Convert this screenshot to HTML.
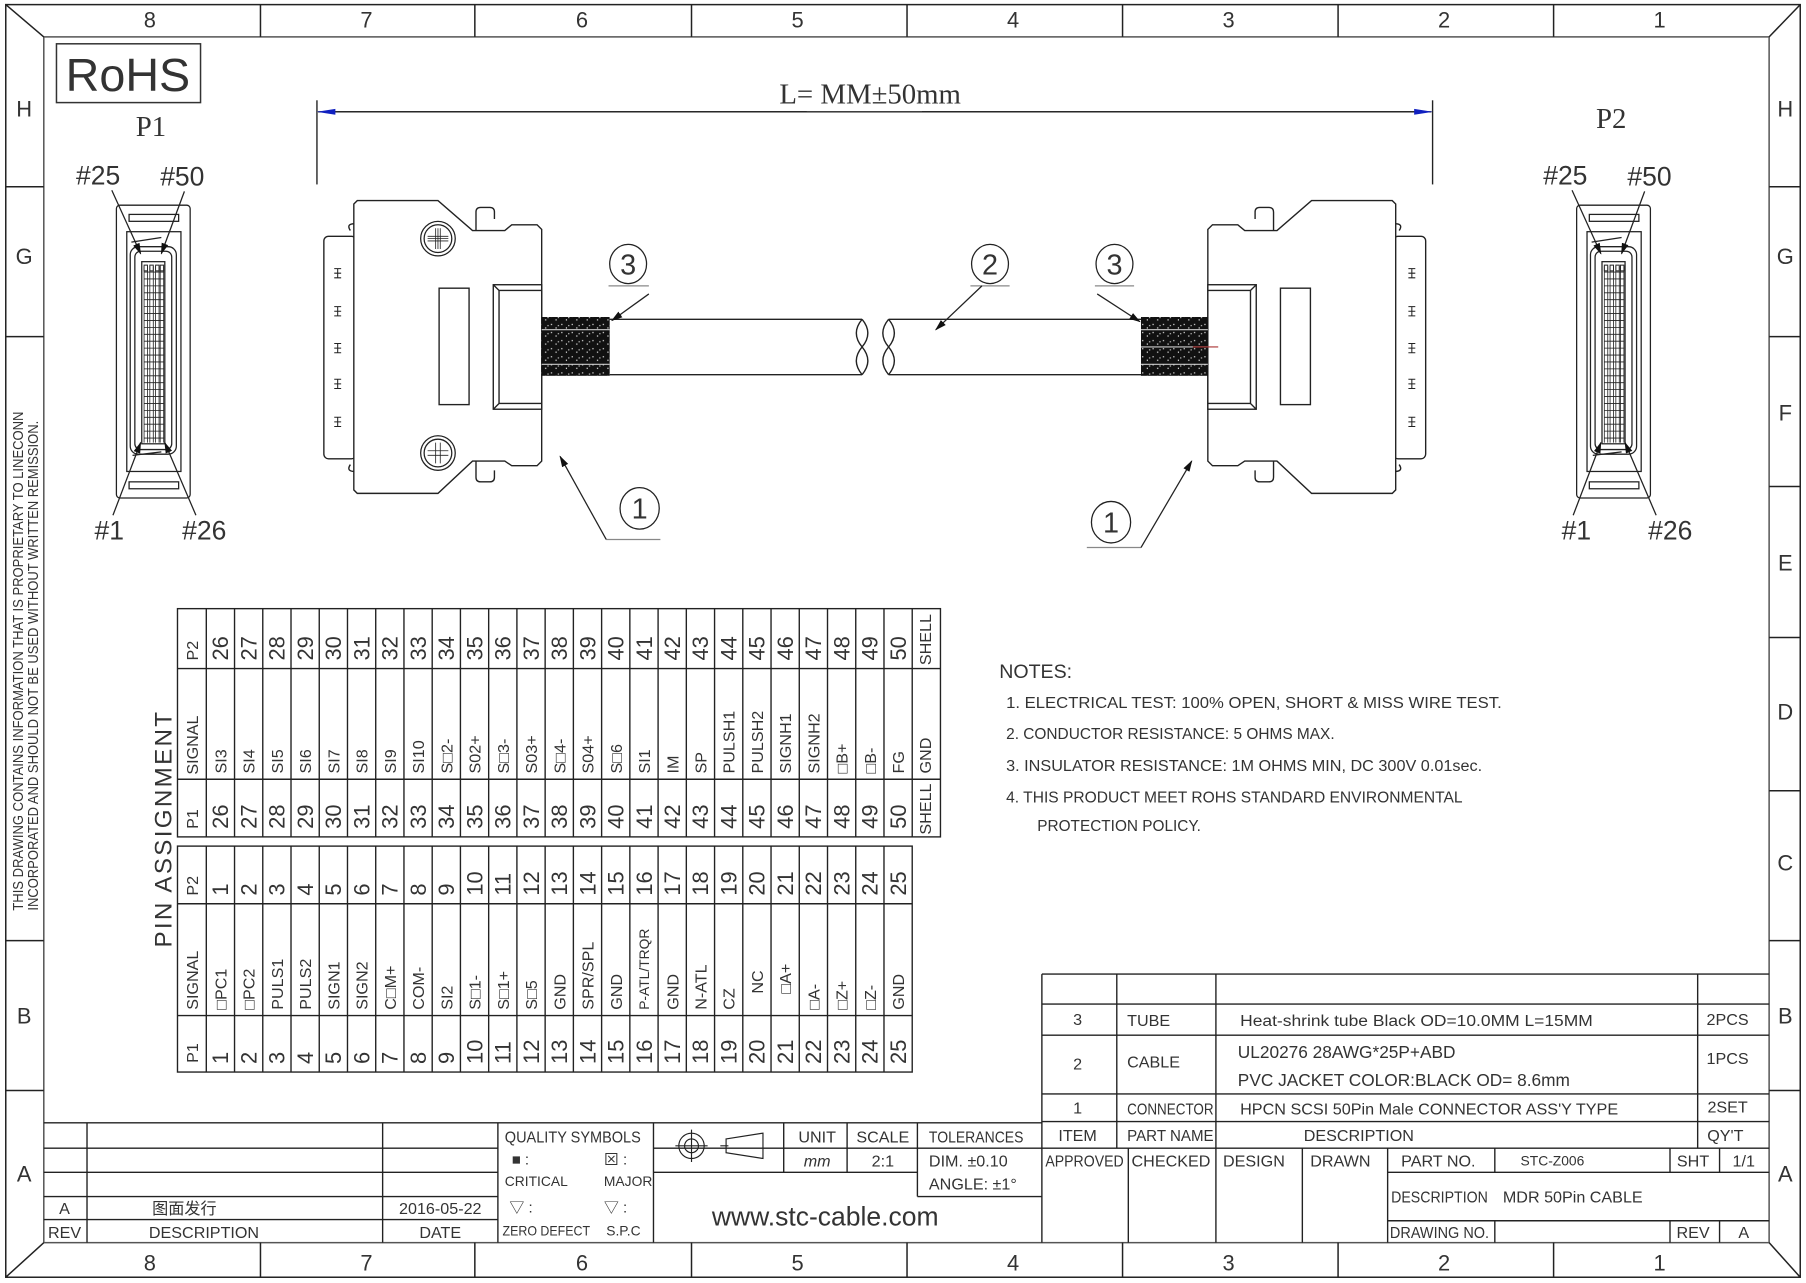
<!DOCTYPE html>
<html><head><meta charset="utf-8">
<style>
html,body{margin:0;padding:0;background:#fff;}
svg{display:block;}
text{font-family:"Liberation Sans","Noto Sans CJK SC",sans-serif;fill:#333;}
.t{font-size:13px;}
.n{font-size:19px;fill:#444;}
.s{font-size:14px;fill:#333;}
</style></head><body>
<svg width="1806" height="1283" viewBox="0 0 1567 1113" preserveAspectRatio="none" xmlns="http://www.w3.org/2000/svg">
<defs>
<pattern id="spk" width="9" height="7" patternUnits="userSpaceOnUse">
<rect width="9" height="7" fill="#111"/>
<rect x="1" y="1" width="1" height="1" fill="#fff"/>
<rect x="5" y="4" width="1" height="1" fill="#fff"/>
<rect x="7" y="2" width="1" height="1" fill="#ddd"/>
</pattern>
<marker id="ar" markerWidth="10" markerHeight="8" refX="9" refY="4" orient="auto" markerUnits="userSpaceOnUse"><path d="M0,1 L10,4 L0,7 Z" fill="#111"/></marker>
<marker id="ab" markerWidth="16" markerHeight="8" refX="15" refY="4" orient="auto" markerUnits="userSpaceOnUse"><path d="M0,1.5 L16,4 L0,6.5 Z" fill="#1020c0"/></marker>
</defs>
<rect width="1567" height="1113" fill="#fff"/>
<g stroke="#222" fill="none" stroke-width="1.3">
<rect x="5" y="4" width="1557" height="1104"/>
<rect x="38" y="32" width="1497" height="1046" stroke="#555"/>
<line x1="5" y1="4" x2="38" y2="32"/><line x1="1562" y1="4" x2="1535" y2="32"/>
<line x1="5" y1="1108" x2="38" y2="1078"/><line x1="1562" y1="1108" x2="1535" y2="1078"/>
<path d="M226,4V32 M412,4V32 M600,4V32 M787,4V32 M974,4V32 M1161,4V32 M1348,4V32"/>
<path d="M226,1078V1108 M412,1078V1108 M600,1078V1108 M787,1078V1108 M974,1078V1108 M1161,1078V1108 M1348,1078V1108"/>
<path d="M5,162H38 M5,292H38 M5,816H38 M5,946H38"/>
<path d="M1535,162H1562 M1535,292H1562 M1535,422H1562 M1535,553H1562 M1535,686H1562 M1535,816H1562 M1535,946H1562"/>
</g>
<g font-size="19" fill="#444" text-anchor="middle">
<text x="130" y="24">8</text><text x="318" y="24">7</text><text x="505" y="24">6</text><text x="692" y="24">5</text><text x="879" y="24">4</text><text x="1066" y="24">3</text><text x="1253" y="24">2</text><text x="1440" y="24">1</text>
<text x="130" y="1102">8</text><text x="318" y="1102">7</text><text x="505" y="1102">6</text><text x="692" y="1102">5</text><text x="879" y="1102">4</text><text x="1066" y="1102">3</text><text x="1253" y="1102">2</text><text x="1440" y="1102">1</text>
<text x="21" y="101">H</text><text x="21" y="229">G</text><text x="21" y="888">B</text><text x="21" y="1025">A</text>
<text x="1549" y="101">H</text><text x="1549" y="229">G</text><text x="1549" y="365">F</text><text x="1549" y="495">E</text><text x="1549" y="624">D</text><text x="1549" y="755">C</text><text x="1549" y="888">B</text><text x="1549" y="1025">A</text>
</g>
<text transform="translate(20,790) rotate(-90)" font-size="12.5" textLength="433" lengthAdjust="spacingAndGlyphs">THIS DRAWING CONTAINS INFORMATION THAT IS PROPRIETARY TO LINECONN</text>
<text transform="translate(33,790) rotate(-90)" font-size="12.5" textLength="425" lengthAdjust="spacingAndGlyphs">INCORPORATED AND SHOULD NOT BE USED WITHOUT WRITTEN REMISSION.</text>

<!-- RoHS -->
<rect x="49" y="38" width="125" height="51" fill="none" stroke="#333" stroke-width="1.3"/>
<text x="111" y="79" font-size="40" text-anchor="middle" fill="#555" textLength="108" lengthAdjust="spacingAndGlyphs">RoHS</text>
<text x="131" y="118" font-family="Liberation Serif" font-size="25" text-anchor="middle" fill="#222" style="font-family:'Liberation Serif',serif">P1</text>
<text x="1398" y="111" font-size="25" text-anchor="middle" fill="#222" style="font-family:'Liberation Serif',serif">P2</text>

<!-- dimension -->
<g stroke="#222" stroke-width="1.2">
<line x1="275" y1="87" x2="275" y2="160"/><line x1="1243" y1="87" x2="1243" y2="160"/>
<line x1="290" y1="97" x2="1230" y2="97" stroke="#222"/>
<line x1="700" y1="97" x2="276" y2="97" marker-end="url(#ab)"/>
<line x1="800" y1="97" x2="1242" y2="97" marker-end="url(#ab)"/>
</g>
<text x="755" y="90" font-size="25" text-anchor="middle" fill="#222" style="font-family:'Liberation Serif',serif">L=  MM±50mm</text>

<!-- P1 face -->
<g id="face" stroke="#222" stroke-width="1.1" fill="none">
<rect x="101" y="178" width="64" height="254" rx="3"/>
<rect x="110" y="201" width="47" height="208"/>
<rect x="112" y="186" width="43" height="6"/>
<rect x="112" y="418" width="43" height="6"/>
<rect x="113" y="214" width="40" height="180" rx="7"/>
<rect x="117" y="218" width="32" height="172" rx="5"/>
<rect x="123" y="227" width="20" height="158"/>
<g stroke-width="0.8">
<path d="M125,230h3v5h-3z M130,230h3v5h-3z M135,230h3v5h-3z M139,230h3v5h-3z"/>
</g>
<path stroke-width="0.7" d="M125,231V384 M128,231V384 M130,231V384 M133,231V384 M135,231V384 M138,231V384 M139,231V384 M142,231V384
M125,236H142 M125,242H142 M125,248H142 M125,254H142 M125,260H142 M125,266H142 M125,272H142 M125,278H142 M125,284H142 M125,290H142 M125,296H142 M125,302H142 M125,308H142 M125,314H142 M125,320H142 M125,326H142 M125,332H142 M125,338H142 M125,344H142 M125,350H142 M125,356H142 M125,362H142 M125,368H142 M125,374H142 M125,380H142"/>
<path d="M114,210 L140,206 M115,395 L140,392"/>
<line x1="97" y1="165" x2="122" y2="220" marker-end="url(#ar)"/>
<line x1="160" y1="166" x2="140" y2="220" marker-end="url(#ar)"/>
<line x1="98" y1="447" x2="122" y2="384" marker-end="url(#ar)"/>
<line x1="170" y1="447" x2="143" y2="384" marker-end="url(#ar)"/>
</g>
<use href="#face" transform="translate(1267,0)"/>
<g font-size="23" fill="#333">
<text x="66" y="160">#25</text><text x="139" y="161">#50</text>
<text x="82" y="468">#1</text><text x="158" y="468">#26</text>
<text x="1339" y="160">#25</text><text x="1412" y="161">#50</text>
<text x="1355" y="468">#1</text><text x="1430" y="468">#26</text>
</g>

<!-- Left connector -->
<g id="conn" stroke="#222" stroke-width="1.2" fill="#fff">
<rect x="281" y="205" width="28" height="193" rx="4"/>
<path d="M304,200 q-4,-6 4,-6 M304,403 q-4,6 4,6" fill="none"/>
<path d="M310,174 H380 L410,200 H438 L444,195 H466 L470,199 V400 L466,404 H444 L438,400 H410 L380,428 H310 L307,425 V177 Z"/>
<path d="M413,200 V184 q0,-4 4,-4 h8 q4,0 4,4 v6 M413,400 v14 q0,4 4,4 h8 q4,0 4,-4 v-6" fill="none"/>
<path d="M290,237h6 M293,233v8 M290,233h6 M290,241h6
M290,270h6 M293,266v8 M290,266h6 M290,274h6
M290,302h6 M293,298v8 M290,298h6 M290,306h6
M290,333h6 M293,329v8 M290,329h6 M290,337h6
M290,366h6 M293,362v8 M290,362h6 M290,370h6" stroke-width="0.9" fill="none"/>
<rect x="381" y="250" width="26" height="101"/>
<rect x="428" y="247" width="42" height="108"/>
<path d="M428,247 L433,252 H470 M433,252 V350 L428,355 M433,350 H470" fill="none"/>
</g>
<use href="#conn" transform="translate(1518,0) scale(-1,1)"/>
<g stroke="#222" stroke-width="1.1" fill="#fff">
<circle cx="380" cy="207" r="15"/><circle cx="380" cy="207" r="12"/>
<path d="M371,207H389 M380,198V216 M371,205h18 M371,209h18 M378,198v18 M382,198v18" fill="none" stroke-width="0.7"/>
<circle cx="380" cy="393" r="15"/><circle cx="380" cy="393" r="12"/>
<path d="M371,391h18 M371,395h18 M378,384v18 M382,384v18" fill="none" stroke-width="0.7"/>
</g>

<!-- heat shrink + cable -->
<rect x="470" y="275" width="59" height="51" fill="url(#spk)"/>
<rect x="990" y="275" width="58" height="51" fill="url(#spk)"/>
<path d="M470,286H529 M470,316H529 M990,286H1048 M990,316H1048 M990,301H1048" stroke="#ccc" stroke-width="1"/>
<line x1="1035" y1="301" x2="1057" y2="301" stroke="#a33" stroke-width="1"/>
<g stroke="#222" stroke-width="1.2" fill="none">
<path d="M529,277H748 M529,325H748 M771,277H990 M771,325H990"/>
<path d="M748,277 q-10,12 0,24 q10,-12 0,-24 M748,301 q-10,12 0,24 M748,301 q10,12 0,24"/>
<path d="M771,277 q-10,12 0,24 q10,-12 0,-24 M771,301 q-10,12 0,24 M771,301 q10,12 0,24"/>
</g>

<!-- balloons -->
<g stroke="#222" stroke-width="1.1" fill="none">
<ellipse cx="545" cy="229" rx="16" ry="17"/><line x1="528" y1="248" x2="563" y2="248" stroke="#888"/>
<line x1="563" y1="255" x2="531" y2="278" marker-end="url(#ar)"/>
<ellipse cx="859" cy="229" rx="16" ry="17"/><line x1="842" y1="248" x2="876" y2="248" stroke="#888"/>
<line x1="852" y1="248" x2="812" y2="286" marker-end="url(#ar)"/>
<ellipse cx="967" cy="229" rx="16" ry="17"/><line x1="950" y1="248" x2="984" y2="248" stroke="#888"/>
<line x1="952" y1="255" x2="989" y2="279" marker-end="url(#ar)"/>
<ellipse cx="555" cy="441" rx="17" ry="18"/><line x1="526" y1="468" x2="573" y2="468" stroke="#888"/>
<line x1="526" y1="468" x2="486" y2="396" marker-end="url(#ar)"/>
<ellipse cx="964" cy="453" rx="17" ry="18"/><line x1="943" y1="475" x2="990" y2="475" stroke="#888"/>
<line x1="990" y1="475" x2="1034" y2="400" marker-end="url(#ar)"/>
</g>
<g font-size="25" fill="#222" text-anchor="middle" style="font-family:'Liberation Serif',serif">
<text x="545" y="238">3</text><text x="859" y="238">2</text><text x="967" y="238">3</text><text x="555" y="450">1</text><text x="964" y="462">1</text>
</g>

<!-- PIN table -->
<text transform="translate(149,822) rotate(-90)" font-size="21" fill="#444" letter-spacing="2">PIN ASSIGNMENT</text>
<g stroke="#222" stroke-width="1.2" fill="none">
<rect x="154" y="528" width="662" height="198"/>
<path d="M154,580H816 M154,676H816"/>
<path d="M179,528V726 M203.5,528V726 M228,528V726 M252.5,528V726 M277,528V726 M301.5,528V726 M326,528V726 M350.5,528V726 M375,528V726 M399.5,528V726 M424,528V726 M448.5,528V726 M473,528V726 M497.5,528V726 M522,528V726 M546.5,528V726 M571,528V726 M595.5,528V726 M620,528V726 M644.5,528V726 M669,528V726 M693.5,528V726 M718,528V726 M742.5,528V726 M767,528V726 M791.5,528V726"/>
<rect x="154" y="734" width="637.5" height="196"/>
<path d="M154,784H791.5 M154,881H791.5"/>
<path d="M179,734V930 M203.5,734V930 M228,734V930 M252.5,734V930 M277,734V930 M301.5,734V930 M326,734V930 M350.5,734V930 M375,734V930 M399.5,734V930 M424,734V930 M448.5,734V930 M473,734V930 M497.5,734V930 M522,734V930 M546.5,734V930 M571,734V930 M595.5,734V930 M620,734V930 M644.5,734V930 M669,734V930 M693.5,734V930 M718,734V930 M742.5,734V930 M767,734V930"/>
</g>
<g class="s" font-size="15">
<text transform="translate(172,573) rotate(-90)">P2</text>
<text transform="translate(172,672) rotate(-90)">SIGNAL</text>
<text transform="translate(172,719) rotate(-90)">P1</text>
<text transform="translate(172,777) rotate(-90)">P2</text>
<text transform="translate(172,876) rotate(-90)">SIGNAL</text>
<text transform="translate(172,922) rotate(-90)">P1</text>
</g>
<g class="n">
<text transform="translate(198,573) rotate(-90)">26</text><text transform="translate(222.5,573) rotate(-90)">27</text><text transform="translate(247,573) rotate(-90)">28</text><text transform="translate(271.5,573) rotate(-90)">29</text><text transform="translate(296,573) rotate(-90)">30</text><text transform="translate(320.5,573) rotate(-90)">31</text><text transform="translate(345,573) rotate(-90)">32</text><text transform="translate(369.5,573) rotate(-90)">33</text><text transform="translate(394,573) rotate(-90)">34</text><text transform="translate(418.5,573) rotate(-90)">35</text><text transform="translate(443,573) rotate(-90)">36</text><text transform="translate(467.5,573) rotate(-90)">37</text><text transform="translate(492,573) rotate(-90)">38</text><text transform="translate(516.5,573) rotate(-90)">39</text><text transform="translate(541,573) rotate(-90)">40</text><text transform="translate(565.5,573) rotate(-90)">41</text><text transform="translate(590,573) rotate(-90)">42</text><text transform="translate(614.5,573) rotate(-90)">43</text><text transform="translate(639,573) rotate(-90)">44</text><text transform="translate(663.5,573) rotate(-90)">45</text><text transform="translate(688,573) rotate(-90)">46</text><text transform="translate(712.5,573) rotate(-90)">47</text><text transform="translate(737,573) rotate(-90)">48</text><text transform="translate(761.5,573) rotate(-90)">49</text><text transform="translate(786,573) rotate(-90)">50</text>
<text transform="translate(198,719) rotate(-90)">26</text><text transform="translate(222.5,719) rotate(-90)">27</text><text transform="translate(247,719) rotate(-90)">28</text><text transform="translate(271.5,719) rotate(-90)">29</text><text transform="translate(296,719) rotate(-90)">30</text><text transform="translate(320.5,719) rotate(-90)">31</text><text transform="translate(345,719) rotate(-90)">32</text><text transform="translate(369.5,719) rotate(-90)">33</text><text transform="translate(394,719) rotate(-90)">34</text><text transform="translate(418.5,719) rotate(-90)">35</text><text transform="translate(443,719) rotate(-90)">36</text><text transform="translate(467.5,719) rotate(-90)">37</text><text transform="translate(492,719) rotate(-90)">38</text><text transform="translate(516.5,719) rotate(-90)">39</text><text transform="translate(541,719) rotate(-90)">40</text><text transform="translate(565.5,719) rotate(-90)">41</text><text transform="translate(590,719) rotate(-90)">42</text><text transform="translate(614.5,719) rotate(-90)">43</text><text transform="translate(639,719) rotate(-90)">44</text><text transform="translate(663.5,719) rotate(-90)">45</text><text transform="translate(688,719) rotate(-90)">46</text><text transform="translate(712.5,719) rotate(-90)">47</text><text transform="translate(737,719) rotate(-90)">48</text><text transform="translate(761.5,719) rotate(-90)">49</text><text transform="translate(786,719) rotate(-90)">50</text>
<text transform="translate(198,777) rotate(-90)">1</text><text transform="translate(222.5,777) rotate(-90)">2</text><text transform="translate(247,777) rotate(-90)">3</text><text transform="translate(271.5,777) rotate(-90)">4</text><text transform="translate(296,777) rotate(-90)">5</text><text transform="translate(320.5,777) rotate(-90)">6</text><text transform="translate(345,777) rotate(-90)">7</text><text transform="translate(369.5,777) rotate(-90)">8</text><text transform="translate(394,777) rotate(-90)">9</text><text transform="translate(418.5,777) rotate(-90)">10</text><text transform="translate(443,777) rotate(-90)">11</text><text transform="translate(467.5,777) rotate(-90)">12</text><text transform="translate(492,777) rotate(-90)">13</text><text transform="translate(516.5,777) rotate(-90)">14</text><text transform="translate(541,777) rotate(-90)">15</text><text transform="translate(565.5,777) rotate(-90)">16</text><text transform="translate(590,777) rotate(-90)">17</text><text transform="translate(614.5,777) rotate(-90)">18</text><text transform="translate(639,777) rotate(-90)">19</text><text transform="translate(663.5,777) rotate(-90)">20</text><text transform="translate(688,777) rotate(-90)">21</text><text transform="translate(712.5,777) rotate(-90)">22</text><text transform="translate(737,777) rotate(-90)">23</text><text transform="translate(761.5,777) rotate(-90)">24</text><text transform="translate(786,777) rotate(-90)">25</text>
<text transform="translate(198,923) rotate(-90)">1</text><text transform="translate(222.5,923) rotate(-90)">2</text><text transform="translate(247,923) rotate(-90)">3</text><text transform="translate(271.5,923) rotate(-90)">4</text><text transform="translate(296,923) rotate(-90)">5</text><text transform="translate(320.5,923) rotate(-90)">6</text><text transform="translate(345,923) rotate(-90)">7</text><text transform="translate(369.5,923) rotate(-90)">8</text><text transform="translate(394,923) rotate(-90)">9</text><text transform="translate(418.5,923) rotate(-90)">10</text><text transform="translate(443,923) rotate(-90)">11</text><text transform="translate(467.5,923) rotate(-90)">12</text><text transform="translate(492,923) rotate(-90)">13</text><text transform="translate(516.5,923) rotate(-90)">14</text><text transform="translate(541,923) rotate(-90)">15</text><text transform="translate(565.5,923) rotate(-90)">16</text><text transform="translate(590,923) rotate(-90)">17</text><text transform="translate(614.5,923) rotate(-90)">18</text><text transform="translate(639,923) rotate(-90)">19</text><text transform="translate(663.5,923) rotate(-90)">20</text><text transform="translate(688,923) rotate(-90)">21</text><text transform="translate(712.5,923) rotate(-90)">22</text><text transform="translate(737,923) rotate(-90)">23</text><text transform="translate(761.5,923) rotate(-90)">24</text><text transform="translate(786,923) rotate(-90)">25</text>
</g>
<g class="s">
<text transform="translate(808,577) rotate(-90)">SHELL</text>
<text transform="translate(808,724) rotate(-90)">SHELL</text>
<text transform="translate(808,671) rotate(-90)">GND</text>
<text transform="translate(196.5,671) rotate(-90)">SI3</text><text transform="translate(221,671) rotate(-90)">SI4</text><text transform="translate(245.5,671) rotate(-90)">SI5</text><text transform="translate(270,671) rotate(-90)">SI6</text><text transform="translate(294.5,671) rotate(-90)">SI7</text><text transform="translate(319,671) rotate(-90)">SI8</text><text transform="translate(343.5,671) rotate(-90)">SI9</text><text transform="translate(368,671) rotate(-90)">SI10</text><text transform="translate(392.5,671) rotate(-90)">S□2-</text><text transform="translate(417,671) rotate(-90)">S02+</text><text transform="translate(441.5,671) rotate(-90)">S□3-</text><text transform="translate(466,671) rotate(-90)">S03+</text><text transform="translate(490.5,671) rotate(-90)">S□4-</text><text transform="translate(515,671) rotate(-90)">S04+</text><text transform="translate(539.5,671) rotate(-90)">S□6</text><text transform="translate(564,671) rotate(-90)">SI1</text><text transform="translate(588.5,671) rotate(-90)">IM</text><text transform="translate(613,671) rotate(-90)">SP</text><text transform="translate(637.5,671) rotate(-90)">PULSH1</text><text transform="translate(662,671) rotate(-90)">PULSH2</text><text transform="translate(686.5,671) rotate(-90)">SIGNH1</text><text transform="translate(711,671) rotate(-90)">SIGNH2</text><text transform="translate(735.5,671) rotate(-90)">□B+</text><text transform="translate(760,671) rotate(-90)">□B-</text><text transform="translate(784.5,671) rotate(-90)">FG</text>
<text transform="translate(196.5,876) rotate(-90)">□PC1</text><text transform="translate(221,876) rotate(-90)">□PC2</text><text transform="translate(245.5,876) rotate(-90)">PULS1</text><text transform="translate(270,876) rotate(-90)">PULS2</text><text transform="translate(294.5,876) rotate(-90)">SIGN1</text><text transform="translate(319,876) rotate(-90)">SIGN2</text><text transform="translate(343.5,876) rotate(-90)">C□M+</text><text transform="translate(368,876) rotate(-90)">COM-</text><text transform="translate(392.5,876) rotate(-90)">SI2</text><text transform="translate(417,876) rotate(-90)">S□1-</text><text transform="translate(441.5,876) rotate(-90)">S□1+</text><text transform="translate(466,876) rotate(-90)">S□5</text><text transform="translate(490.5,876) rotate(-90)">GND</text><text transform="translate(515,876) rotate(-90)">SPR/SPL</text><text transform="translate(539.5,876) rotate(-90)">GND</text><text transform="translate(563,876) rotate(-90)" font-size="12">P-ATL/TRQR</text><text transform="translate(588.5,876) rotate(-90)">GND</text><text transform="translate(613,876) rotate(-90)">N-ATL</text><text transform="translate(637.5,876) rotate(-90)">CZ</text><text transform="translate(662,862) rotate(-90)">NC</text><text transform="translate(686.5,862) rotate(-90)">□A+</text><text transform="translate(711,876) rotate(-90)">□A-</text><text transform="translate(735.5,876) rotate(-90)">□Z+</text><text transform="translate(760,876) rotate(-90)">□Z-</text><text transform="translate(784.5,876) rotate(-90)">GND</text>
</g>

<!-- notes -->
<g fill="#333">
<text x="867" y="588" font-size="17">NOTES:</text>
<text x="873" y="614" font-size="14" textLength="430" lengthAdjust="spacingAndGlyphs">1. ELECTRICAL TEST: 100%  OPEN, SHORT &amp; MISS WIRE TEST.</text>
<text x="873" y="641" font-size="14" textLength="285" lengthAdjust="spacingAndGlyphs">2. CONDUCTOR RESISTANCE: 5 OHMS MAX.</text>
<text x="873" y="669" font-size="14" textLength="413" lengthAdjust="spacingAndGlyphs">3. INSULATOR RESISTANCE: 1M OHMS MIN, DC 300V 0.01sec.</text>
<text x="873" y="696" font-size="14" textLength="396" lengthAdjust="spacingAndGlyphs">4. THIS PRODUCT MEET ROHS STANDARD ENVIRONMENTAL</text>
<text x="900" y="721" font-size="14" textLength="142" lengthAdjust="spacingAndGlyphs">PROTECTION POLICY.</text>
</g>

<!-- BOM + title block right -->
<g stroke="#222" stroke-width="1.2" fill="none">
<path d="M904,845H1535 M904,871H1535 M904,898H1535 M904,949H1535 M904,973H1535 M38,974H904 M567,996H1535 M38,996H432 M38,1017H432 M567,1017H796 M1204,1017H1535 M38,1038H432 M796,1038H904 M38,1058H432 M1204,1059H1535"/>
<path d="M904,845V1078 M969,845V996 M1055,845V1078 M1473,845V996 M979,996V1078 M1130,996V1078 M1204,996V1078 M1297,996V1017 M1297,1059V1078 M1449,996V1017 M1449,1059V1078 M1492,996V1017 M1492,1059V1078"/>
<path d="M75.5,974V1078 M332,974V1078 M432,974V1078 M567,974V1078 M680,974V1017 M735,974V1017 M796,974V1038"/>
</g>
<g fill="#333" font-size="14">
<text x="935" y="889" text-anchor="middle">3</text><text x="978" y="890">TUBE</text>
<text x="1076" y="890" textLength="306" lengthAdjust="spacingAndGlyphs">Heat-shrink tube Black ΟD=10.0MM L=15MM</text><text x="1499" y="889" text-anchor="middle">2PCS</text>
<text x="935" y="928" text-anchor="middle">2</text><text x="978" y="926">CABLE</text>
<text x="1074" y="918" font-size="15">UL20276 28AWG*25P+ABD</text>
<text x="1074" y="942" font-size="15">PVC JACKET COLOR:BLACK OD= 8.6mm</text>
<text x="1499" y="923" text-anchor="middle">1PCS</text>
<text x="935" y="966" text-anchor="middle">1</text><text x="978" y="967" textLength="75" lengthAdjust="spacingAndGlyphs">CONNECTOR</text>
<text x="1076" y="967" textLength="328" lengthAdjust="spacingAndGlyphs">HPCN SCSI 50Pin Male CONNECTOR ASS'Y TYPE</text><text x="1499" y="965" text-anchor="middle">2SET</text>
<text x="935" y="990" text-anchor="middle">ITEM</text><text x="978" y="990" textLength="75" lengthAdjust="spacingAndGlyphs">PART NAME</text>
<text x="1179" y="990" text-anchor="middle">DESCRIPTION</text><text x="1497" y="990" text-anchor="middle">QY'T</text>
<text x="941" y="1012" text-anchor="middle" textLength="68" lengthAdjust="spacingAndGlyphs">APPROVED</text>
<text x="1016" y="1012" text-anchor="middle">CHECKED</text><text x="1088" y="1012" text-anchor="middle">DESIGN</text>
<text x="1163" y="1012" text-anchor="middle">DRAWN</text><text x="1248" y="1012" text-anchor="middle">PART NO.</text>
<text x="1347" y="1011" text-anchor="middle" font-size="12" fill="#666">STC-Z006</text>
<text x="1469" y="1012" text-anchor="middle">SHT</text><text x="1513" y="1012" text-anchor="middle">1/1</text>
<text x="1249" y="1043" text-anchor="middle" textLength="84" lengthAdjust="spacingAndGlyphs">DESCRIPTION</text>
<text x="1304" y="1043">MDR 50Pin CABLE</text>
<text x="1249" y="1074" text-anchor="middle" textLength="86" lengthAdjust="spacingAndGlyphs">DRAWING NO.</text>
<text x="1469" y="1074" text-anchor="middle">REV</text><text x="1513" y="1074" text-anchor="middle">A</text>
<text x="709" y="991" text-anchor="middle">UNIT</text><text x="766" y="991" text-anchor="middle">SCALE</text>
<text x="847" y="991" text-anchor="middle" textLength="82" lengthAdjust="spacingAndGlyphs">TOLERANCES</text>
<text x="709" y="1012" text-anchor="middle" font-style="italic">mm</text><text x="766" y="1012" text-anchor="middle">2:1</text>
<text x="806" y="1012">DIM. ±0.10</text><text x="806" y="1032">ANGLE: ±1°</text>
<text x="497" y="991" text-anchor="middle" font-size="13.5" textLength="118" lengthAdjust="spacingAndGlyphs">QUALITY SYMBOLS</text>
<text x="444" y="1010" font-size="13">■ :</text><text x="524" y="1010" font-size="13">⊠ :</text>
<text x="438" y="1029" font-size="12">CRITICAL</text><text x="524" y="1029" font-size="12">MAJOR</text>
<text x="442" y="1052" font-size="13">▽ :</text><text x="524" y="1052" font-size="13">▽ :</text>
<text x="436" y="1072" font-size="12" textLength="76" lengthAdjust="spacingAndGlyphs">ZERO DEFECT</text><text x="526" y="1072" font-size="12">S.P.C</text>
<text x="56" y="1053" text-anchor="middle">A</text><text x="160" y="1053" text-anchor="middle">图面发行</text>
<text x="382" y="1053" text-anchor="middle">2016-05-22</text>
<text x="56" y="1074" text-anchor="middle">REV</text><text x="177" y="1074" text-anchor="middle">DESCRIPTION</text>
<text x="382" y="1074" text-anchor="middle">DATE</text>
</g>
<text x="716" y="1063" font-size="23" text-anchor="middle" fill="#666">www.stc-cable.com</text>
<g stroke="#222" stroke-width="1" fill="none">
<circle cx="600" cy="994" r="11"/><circle cx="600" cy="994" r="6"/>
<path d="M586,994H614 M600,980V1008 M625,994H632 M630,988 L662,983 V1005 L630,1000 Z"/>
</g>
</svg>
</body></html>
